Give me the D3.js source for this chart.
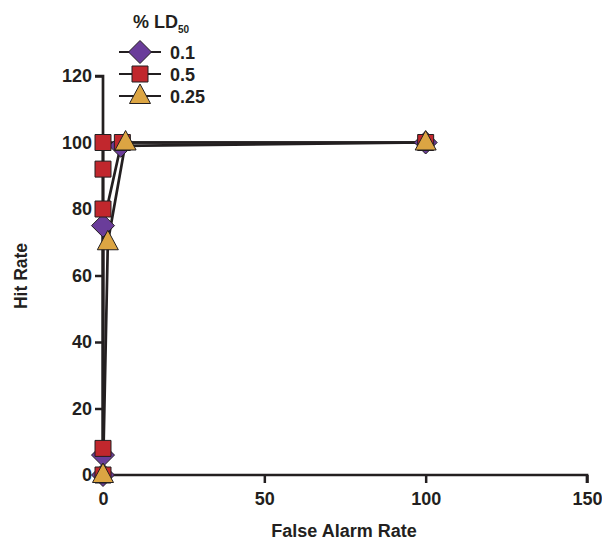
<!DOCTYPE html>
<html>
<head>
<meta charset="utf-8">
<script src="https://cdn.jsdelivr.net/npm/d3@7"></script>
<style>
  html, body { margin: 0; padding: 0; background: #fff; }
  svg text { font-family: "Liberation Sans", Arial, Helvetica, sans-serif; font-weight: bold; fill: #231f20; }
</style>
</head>
<body>
<svg id="chart" width="602" height="541"></svg>
<script>
// Series: ROC-style points (false alarm rate, hit rate) per % LD50 dose
const seriesNames = ["0.1", "0.5", "0.25"];
const falseAlarm01 = [0, 0, 0, 5.5, 100];
const hitRate01    = [0, 6, 75, 99, 100];
const falseAlarm05 = [0, 0, 0, 0, 0, 6, 100];
const hitRate05    = [0, 8, 80, 92, 100, 100, 100];
const falseAlarm025 = [0, 1.5, 7, 100];
const hitRate025    = [0, 70, 100, 100];
const xTicks = [0, 50, 100, 150];
const yTicks = [0, 20, 40, 60, 80, 100, 120];

const ink = "#231f20";
const colors = { "0.1": "#6a3d9a", "0.5": "#c1272d", "0.25": "#dca543" };
const shapes = { "0.1": "diamond", "0.5": "square", "0.25": "triangle" };

const svg = d3.select("#chart");
const x = d3.scaleLinear().domain([0, 150]).range([103, 587]);
const y = d3.scaleLinear().domain([0, 120]).range([475, 76]);

function markerPath(shape) {
  if (shape === "diamond") return "M0,-11.5L11.5,0L0,11.5L-11.5,0Z";
  if (shape === "square") return "M-8,-8L8,-8L8,8L-8,8Z";
  return "M0,-12L10.5,7.5L-10.5,7.5Z";
}

// Axes
const xAxis = d3.axisBottom(x).tickValues(xTicks).tickSize(8).tickPadding(9);
const yAxis = d3.axisLeft(y).tickValues(yTicks).tickSize(8).tickPadding(3);

const gx = svg.append("g").attr("transform", `translate(0,${y(0)})`).call(xAxis);
const gy = svg.append("g").attr("transform", `translate(${x(0)},0)`).call(yAxis);
[gx, gy].forEach(g => {
  g.select(".domain").attr("stroke", ink).attr("stroke-width", 2.7);
  g.selectAll(".tick line").attr("stroke", ink).attr("stroke-width", 2.5);
  g.selectAll(".tick text").style("font-size", "18px").style("font-family", "'Liberation Sans', Arial, sans-serif").style("font-weight", "bold").attr("fill", ink);
});
gx.select(".domain").attr("d", `M${x(0)},0H${x(150)}V8`);
gy.select(".domain").attr("d", `M-8,${y(120)}H0V${y(0)}`);

// Axis titles
svg.append("text").attr("x", 344).attr("y", 537).attr("text-anchor", "middle")
  .style("font-size", "18px").text("False Alarm Rate");
svg.append("text").attr("transform", "translate(27,276) rotate(-90)").attr("text-anchor", "middle")
  .style("font-size", "17.5px").text("Hit Rate");

// Data series
const series = [
  { name: "0.1", xs: falseAlarm01, ys: hitRate01 },
  { name: "0.5", xs: falseAlarm05, ys: hitRate05 },
  { name: "0.25", xs: falseAlarm025, ys: hitRate025 }
].map(s => ({ name: s.name, pts: s.xs.map((v, i) => [v, s.ys[i]]) }));

const line = d3.line().x(d => x(d[0])).y(d => y(d[1]));
svg.append("g").selectAll("path").data(series).join("path")
  .attr("d", d => line(d.pts)).attr("fill", "none")
  .attr("stroke", ink).attr("stroke-width", 2.7);

const drawOrder = ["0.1", "0.5", "0.25"];
drawOrder.forEach(name => {
  const s = series.find(d => d.name === name);
  svg.append("g").selectAll("path").data(s.pts).join("path")
    .attr("transform", d => `translate(${x(d[0])},${y(d[1])})`)
    .attr("d", markerPath(shapes[name]))
    .attr("fill", colors[name]).attr("stroke", ink).attr("stroke-width", 1);
});

// Legend
const legend = svg.append("g");
const title = legend.append("text").attr("x", 133).attr("y", 28).style("font-size", "18px");
title.append("tspan").text("% LD");
title.append("tspan").attr("dy", 5).style("font-size", "10px").text("50");
seriesNames.forEach((name, i) => {
  const cy = 52 + i * 22;
  legend.append("line").attr("x1", 119).attr("x2", 161).attr("y1", cy).attr("y2", cy)
    .attr("stroke", ink).attr("stroke-width", 2);
  legend.append("path").attr("transform", `translate(140,${cy})`)
    .attr("d", markerPath(shapes[name]))
    .attr("fill", colors[name]).attr("stroke", ink).attr("stroke-width", 1);
  legend.append("text").attr("x", 170).attr("y", cy + 6.5).style("font-size", "18px").text(name);
});
</script>
</body>
</html>
